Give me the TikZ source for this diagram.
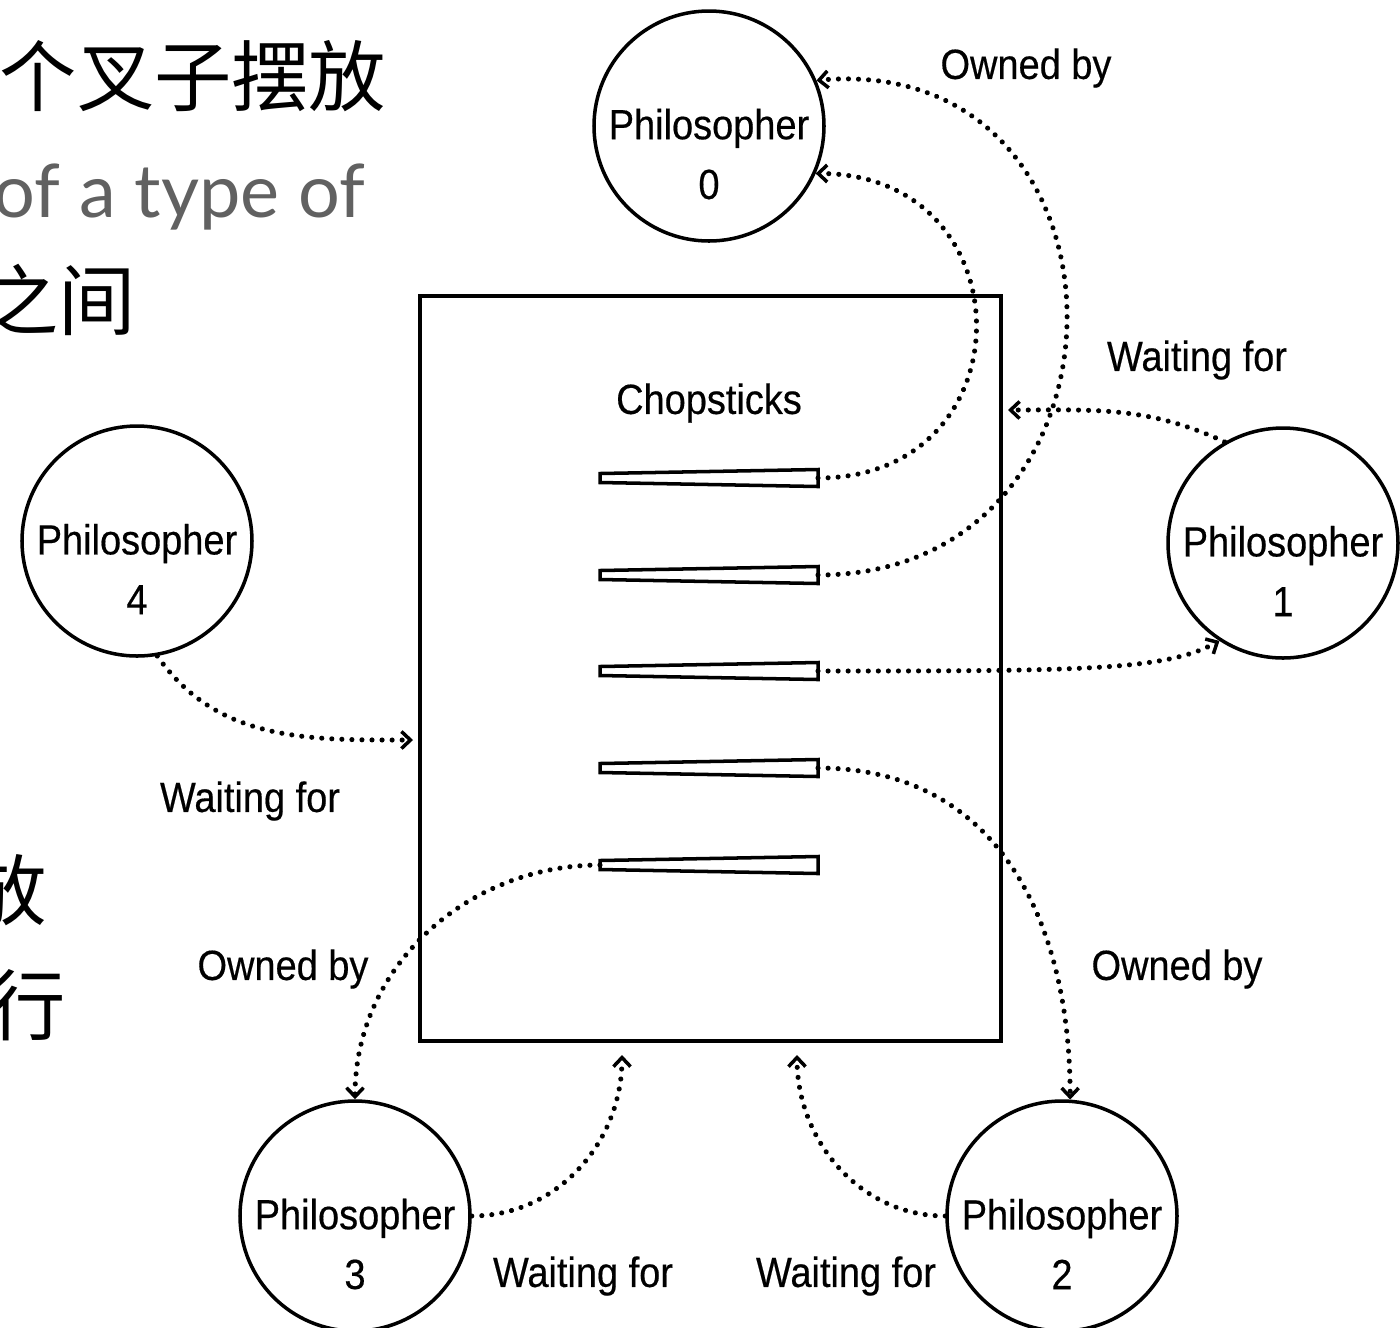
\documentclass[tikz,border=0pt]{standalone}
\usepackage{fontspec}
\setmainfont{Liberation Sans}[FakeStretch=0.9, FakeBold=0.4]
\newfontfamily\cjk{Noto Sans CJK SC}
\newfontfamily\slidefont{Lato}
\usetikzlibrary{positioning, arrows.meta}

\tikzset{
  phil/.style={circle, draw, line width=1pt, minimum size=2.3cm, inner sep=0pt},
  philtext/.style={align=center, font=\fontsize{12}{17}\selectfont, yshift=-0.28cm},
  lbl/.style={font=\fontsize{12}{14}\selectfont, inner sep=0pt},
  stick/.style={line width=1pt, line join=miter},
  conn/.style={line width=1.45pt, dash pattern=on 0.01pt off 2.85pt, line cap=round,
    -{Straight Barb[length=0.9mm, width=1.7mm, line width=1pt]}},
  slide/.style={inner sep=0pt, anchor=east},
}

\begin{document}
\begin{tikzpicture}
\useasboundingbox (0,0) rectangle (14,-13.27);

% slide text behind the figure
\node[slide, font=\cjk\fontsize{22}{22}\selectfont] (zh1) at (3.87,-0.76) {个叉子摆放};
\node[slide, font=\slidefont\fontsize{21}{21}\selectfont, text=black!62] (en1) at (3.66,-1.97) {of a type of};
\node[slide, font=\cjk\fontsize{22}{22}\selectfont] (zh2) at (1.37,-3.00) {之间};
\node[slide, font=\cjk\fontsize{22}{22}\selectfont] (zh3) at (0.48,-8.90) {放};
\node[slide, font=\cjk\fontsize{22}{22}\selectfont] (zh4) at (0.67,-10.05) {行};

% table and chopsticks
\node[draw, line width=1pt, minimum width=5.81cm, minimum height=7.45cm, inner sep=0pt] (table) at (7.105,-6.685) {};
\node[lbl] (chop) at (7.09,-4.03) {Chopsticks};
\foreach \i/\y in {1/-4.78, 2/-5.75, 3/-6.71, 4/-7.68, 5/-8.65} {
  \draw[stick] (6.00,\y+0.045) -- (8.18,\y+0.085) -- (8.18,\y-0.085) -- (6.00,\y-0.045) -- cycle;
  \coordinate (cl\i) at (6.00,\y);
  \coordinate (cr\i) at (8.18,\y);
}

% philosophers
\node[phil, label={[philtext]center:{Philosopher\\0}}] (phil0) at (7.09,-1.26) {};
\node[phil, label={[philtext]center:{Philosopher\\1}}] (phil1) at (12.83,-5.43) {};
\node[phil, label={[philtext]center:{Philosopher\\2}}] (phil2) at (10.62,-12.16) {};
\node[phil, label={[philtext]center:{Philosopher\\3}}] (phil3) at (3.55,-12.16) {};
\node[phil, label={[philtext]center:{Philosopher\\4}}] (phil4) at (1.37,-5.41) {};

% ends on the table
\coordinate (w1) at (10.08,-4.10);
\coordinate (w4) at (4.13,-7.40);
\coordinate (w3) at (6.22,-10.55);
\coordinate (w2) at (7.97,-10.55);

% labels
\node[lbl] (own0) at (10.26,-0.68) {Owned by};
\node[lbl] (wait1) at (11.97,-3.60) {Waiting for};
\node[lbl] (wait4) at (2.50,-8.01) {Waiting for};
\node[lbl] (own3) at (2.83,-9.69) {Owned by};
\node[lbl] (own2) at (11.77,-9.69) {Owned by};
\node[lbl] (wait3) at (5.83,-12.76) {Waiting for};
\node[lbl] (wait2) at (8.46,-12.76) {Waiting for};

% connectors
\draw[conn] (cr1) to[out=0, in=0, looseness=1.78] (phil0.-24);
\draw[conn] (cr2) to[out=0, in=5, looseness=1.72] (phil0.23);
\draw[conn] (phil1.120) to[out=155, in=0] (w1);
\draw[conn] (cr3) .. controls +(2.6,0) and +(-0.55,-0.3) .. (phil1.237);
\draw[conn] (phil4.-80) to[out=-55, in=180] (w4);
\draw[conn] (cl5) to[out=180, in=90] (phil3.north);
\draw[conn] (cr4) to[out=0, in=90, looseness=1.1] (phil2.86);
\draw[conn] (phil3.east) to[out=0, in=-90] (w3);
\draw[conn] (phil2.west) to[out=180, in=-90] (w2);
\end{tikzpicture}
\end{document}
